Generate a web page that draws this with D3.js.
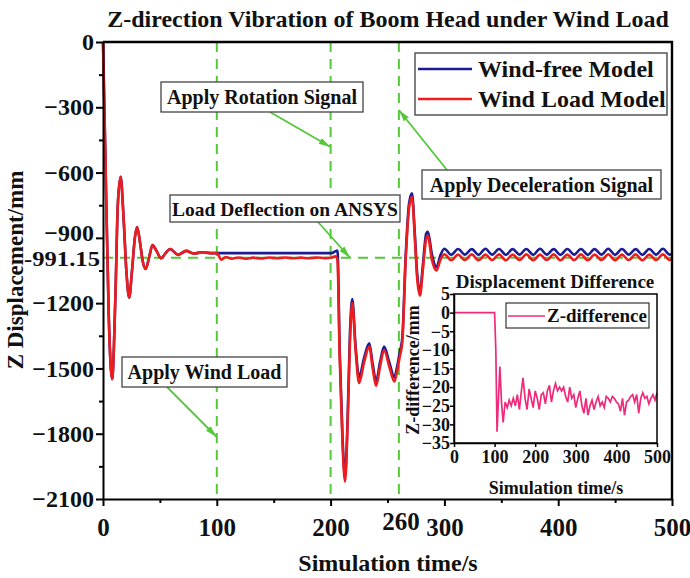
<!DOCTYPE html>
<html>
<head>
<meta charset="utf-8">
<script src="https://cdn.jsdelivr.net/npm/d3@7"></script>
<style>
  body { margin: 0; background: #fff; }
  text { font-family: "Liberation Serif", "Times New Roman", serif; font-weight: bold; fill: #111; }
</style>
</head>
<body>
<svg id="chart" width="690" height="578"></svg>
<script>
// ---- Boom head Z displacement (mm) over simulation time (s) ----
const timeS = [
  0, 2, 5, 8, 11, 13, 15.5, 18, 20.5, 23, 25.5, 28, 30, 32.5, 35, 37.5, 40.5, 43.5, 47, 51, 55, 59, 66, 73, 80, 87, 94, 100,
  104, 108, 113, 119, 125, 132, 139, 146, 153, 160, 167, 174, 181, 188, 195, 201, 204,
  206, 208, 210.5, 212.7, 215, 217, 219, 222, 225, 229.5, 234, 237, 240, 243.5, 247, 251.5, 256, 258.5, 261, 263, 266, 269, 271.5,
  274, 276, 278.5, 281, 284, 285.5, 289, 293, 296.5, 300,
  306, 312, 318, 324, 330, 336, 342, 348, 354, 360, 366, 372, 378, 384, 390, 396, 402, 408, 414, 420,
  426, 432, 438, 444, 450, 456, 462, 468, 474, 480, 486, 492, 498, 500
];
const windFree = [
  0, -500, -1250, -1550, -1150, -750, -620, -800, -1050, -1175, -1050, -900, -850, -920, -1010, -1043, -990, -933, -960, -994, -970, -951, -978, -960, -972, -966, -970, -970,
  -970, -970, -970, -970, -970, -970, -970, -970, -970, -970, -970, -970, -970, -970, -970, -970, -962,
  -958, -1420, -1820, -1995, -1720, -1340, -1181, -1400, -1540, -1450, -1385, -1480, -1558, -1470, -1400, -1470, -1540, -1490, -1420, -1360, -980, -740, -695,
  -880, -1060, -1150, -1030, -880, -872, -975, -1035, -980, -950,
  -978, -951, -977, -952, -978, -950, -977, -951, -978, -952, -977, -951, -978, -950, -977, -952, -978, -951, -977, -951,
  -978, -952, -977, -950, -978, -951, -977, -952, -978, -951, -977, -950, -977, -972
];
const windLoad = [
  0, -500, -1250, -1550, -1150, -750, -620, -800, -1050, -1175, -1050, -900, -850, -920, -1010, -1043, -990, -933, -960, -994, -970, -951, -978, -960, -972, -966, -970, -970,
  -1000, -988, -996, -990, -996, -991, -995, -990, -994, -990, -994, -991, -994, -990, -993, -990, -985,
  -1000, -1450, -1850, -2020, -1750, -1380, -1200, -1420, -1567, -1470, -1400, -1500, -1580, -1490, -1415, -1490, -1560, -1510, -1440, -1380, -1000, -760, -712,
  -900, -1080, -1165, -1050, -905, -890, -1000, -1050, -1000, -975,
  -1003, -977, -1002, -976, -1003, -977, -1002, -976, -1003, -977, -1002, -976, -1003, -977, -1002, -976, -1003, -977, -1002, -976,
  -1003, -977, -1002, -976, -1003, -977, -1002, -976, -1003, -977, -1002, -976, -1002, -997
];

// ---- Z difference between the two models (inset) ----
const diffTime = [
  0, 100, 103, 106, 110, 113, 117, 121, 126, 131, 136, 141, 146, 151, 156, 161, 166, 170, 175, 180, 185, 190, 195,
  200, 205, 210, 215, 220, 225, 230, 235, 240, 245, 250, 255, 260, 265, 270, 275, 280, 285, 290, 295,
  300, 305, 310, 315, 320, 325, 330, 335, 340, 345, 350, 355, 360, 365, 370, 375, 380, 385, 390, 395,
  400, 405, 410, 415, 420, 425, 430, 435, 440, 445, 450, 455, 460, 465, 470, 475, 480, 485, 490, 495, 500
];
const zDiff = [
  0, 0, -10, -32, -22, -14.5, -24, -29.5, -24, -25.5, -23.5, -25, -23, -25, -22, -26, -21, -17.5, -23, -26, -20.5, -23, -25.5,
  -21, -23, -26, -22, -21.5, -24.5, -21, -19.5, -24, -21, -19, -21, -20, -21, -20, -22.5, -24, -20, -23, -22,
  -25.5, -23, -21, -25, -27, -23, -27.5, -25, -23.5, -26, -24, -22.5, -25, -24, -25.5, -22.5, -23, -24, -22.5, -23,
  -24, -24.5, -26.5, -23, -27.5, -24, -23.5, -22.5, -22, -24, -22, -27, -23, -21.5, -23, -22.5, -24.5, -23, -22, -23.5, -21.5
];

// ---- axis ticks and markers ----
const xTicks = [0, 100, 200, 300, 400, 500];
const xMinor = [50, 150, 250, 350, 450];
const yTicks = [0, -300, -600, -900, -1200, -1500, -1800, -2100];
const yMinor = [-150, -450, -750, -1050, -1350, -1650, -1950];
const eventTimes = [100, 200, 260];
const ansysValue = -991.15;
const insetXTicks = [0, 100, 200, 300, 400, 500];
const insetYTicks = [5, 0, -5, -10, -15, -20, -25, -30, -35];

const svg = d3.select("#chart");
const green = "#55c83a";

const x = d3.scaleLinear().domain([0, 500]).range([103, 672]);
const y = d3.scaleLinear().domain([-2100, 0]).range([499, 42]);

// arrow head marker
svg.append("defs").append("marker")
  .attr("id", "arrowHead").attr("viewBox", "0 0 12 8")
  .attr("refX", 12).attr("refY", 4)
  .attr("markerWidth", 12).attr("markerHeight", 8)
  .attr("markerUnits", "userSpaceOnUse").attr("orient", "auto")
  .append("path").attr("d", "M0,0.8 L12,4 L0,7.2 Z").attr("fill", green);

// title
svg.append("text").attr("x", 388).attr("y", 27).attr("text-anchor", "middle")
  .style("font-size", "24px").text("Z-direction Vibration of Boom Head under Wind Load");

// reference lines: event times and ANSYS deflection
const refG = svg.append("g").attr("stroke", green).attr("stroke-width", 2).attr("stroke-dasharray", "10,7").attr("fill", "none");
refG.selectAll("line.v").data(eventTimes).join("line").attr("class", "v")
  .attr("x1", d => x(d)).attr("x2", d => x(d)).attr("y1", y(0)).attr("y2", y(-2100));
refG.append("line").attr("x1", x(0)).attr("x2", x(500)).attr("y1", y(ansysValue)).attr("y2", y(ansysValue));

// displacement curves
const line = d3.line().curve(d3.curveMonotoneX);
const freePts = timeS.map((t, i) => [x(t), y(windFree[i])]);
const loadPts = timeS.map((t, i) => [x(t), y(windLoad[i])]);
svg.append("path").attr("d", line(freePts)).attr("fill", "none").attr("stroke", "#1c1c94").attr("stroke-width", 2.6);
svg.append("path").attr("d", line(loadPts)).attr("fill", "none").attr("stroke", "#ee1c1c").attr("stroke-width", 2.6);

// axes
const xAxis = svg.append("g").attr("transform", `translate(0,${y(-2100)})`)
  .call(d3.axisBottom(x).tickValues(xTicks).tickSize(7).tickSizeOuter(0).tickPadding(12).tickFormat(d3.format("d")));
xAxis.selectAll("text").style("font-size", "25px");
svg.append("g").attr("transform", `translate(0,${y(-2100)})`)
  .call(d3.axisBottom(x).tickValues(xMinor).tickSize(4).tickSizeOuter(0).tickFormat(""))
  .select(".domain").remove();
const yAxis = svg.append("g").attr("transform", `translate(${x(0)},0)`)
  .call(d3.axisLeft(y).tickValues(yTicks).tickSize(7).tickSizeOuter(0).tickPadding(2).tickFormat(d3.format("d")));
yAxis.selectAll("text").style("font-size", "24px");
yAxis.selectAll(".tick").filter(d => d === -900).select("text").attr("dy", "0.1em");
svg.append("g").attr("transform", `translate(${x(0)},0)`)
  .call(d3.axisLeft(y).tickValues(yMinor).tickSize(4).tickSizeOuter(0).tickFormat(""))
  .select(".domain").remove();
svg.selectAll(".domain, .tick line").attr("stroke", "#000").attr("stroke-width", 2);
svg.selectAll(".tick text").attr("fill", "#111");

// extra labels on axes
svg.append("text").attr("x", 100).attr("y", y(ansysValue) + 8.5).attr("text-anchor", "end")
  .attr("textLength", 76).attr("lengthAdjust", "spacingAndGlyphs")
  .style("font-size", "21px").text("-991.15");
svg.append("text").attr("x", x(260) + 2).attr("y", y(-2100) + 31).attr("text-anchor", "middle")
  .style("font-size", "25px").text("260");

// frame
svg.append("path").attr("d", `M${x(0)},${y(0)}H${x(500)}V${y(-2100)}`)
  .attr("fill", "none").attr("stroke", "#000").attr("stroke-width", 2.4);

// axis titles
svg.append("text").attr("x", 388).attr("y", 571).attr("text-anchor", "middle")
  .style("font-size", "24px").text("Simulation time/s");
svg.append("text").attr("transform", "translate(23,270) rotate(-90)").attr("text-anchor", "middle")
  .style("font-size", "23px").text("Z Displacement/mm");

// legend
const leg = svg.append("g");
leg.append("rect").attr("x", 415).attr("y", 53).attr("width", 252).attr("height", 62)
  .attr("fill", "#fff").attr("stroke", "#555").attr("stroke-width", 1.5);
const legItems = [["Wind-free Model", "#1c1c94", 69], ["Wind Load Model", "#ee1c1c", 99]];
legItems.forEach(([label, color, ly]) => {
  leg.append("line").attr("x1", 418).attr("x2", 472).attr("y1", ly).attr("y2", ly)
    .attr("stroke", color).attr("stroke-width", 2.6);
  leg.append("text").attr("x", 478).attr("y", ly + 8).style("font-size", "24px").text(label);
});

// annotations with arrows
const notes = [
  { text: "Apply Rotation Signal", bx: 161, by: 82, bw: 202, bh: 30, from: [270, 112], to: [x(200), 147] },
  { text: "Load Deflection on ANSYS", bx: 170, by: 195, bw: 230, bh: 27, from: [318, 222], to: [350, y(ansysValue)] },
  { text: "Apply Deceleration Signal", bx: 422, by: 170, bw: 239, bh: 29, from: [447, 170], to: [x(260), 110] },
  { text: "Apply Wind Load", bx: 122, by: 357, bw: 165, bh: 30, from: [167, 387], to: [x(100), 437] }
];
notes.forEach(n => {
  svg.append("line").attr("x1", n.from[0]).attr("y1", n.from[1]).attr("x2", n.to[0]).attr("y2", n.to[1])
    .attr("stroke", green).attr("stroke-width", 1.8).attr("marker-end", "url(#arrowHead)");
  svg.append("rect").attr("x", n.bx).attr("y", n.by).attr("width", n.bw).attr("height", n.bh)
    .attr("fill", "#fff").attr("stroke", "#444").attr("stroke-width", 1.3);
  svg.append("text").attr("x", n.bx + n.bw / 2).attr("y", n.by + n.bh / 2 + 7).attr("text-anchor", "middle")
    .style("font-size", n.bh < 28 ? "19.5px" : "20px").text(n.text);
});

// ---- inset: displacement difference ----
const xi = d3.scaleLinear().domain([0, 500]).range([454, 657]);
const yi = d3.scaleLinear().domain([-35, 5]).range([443, 294]);
const inset = svg.append("g");
inset.append("text").attr("x", 555).attr("y", 288).attr("text-anchor", "middle")
  .style("font-size", "19px").text("Displacement Difference");
inset.append("path").attr("d", d3.line().curve(d3.curveLinear)(diffTime.map((t, i) => [xi(t), yi(zDiff[i])])))
  .attr("fill", "none").attr("stroke", "#ee2a7b").attr("stroke-width", 1.7);
const ixAxis = inset.append("g").attr("transform", `translate(0,${yi(-35)})`)
  .call(d3.axisBottom(xi).tickValues(insetXTicks).tickSize(4).tickSizeOuter(0).tickPadding(3).tickFormat(d3.format("d")));
const iyAxis = inset.append("g").attr("transform", `translate(${xi(0)},0)`)
  .call(d3.axisLeft(yi).tickValues(insetYTicks).tickSize(4).tickSizeOuter(0).tickPadding(0).tickFormat(d3.format("d")));
inset.selectAll(".tick text").style("font-size", "18px").attr("fill", "#111");
inset.selectAll(".domain, .tick line").attr("stroke", "#000").attr("stroke-width", 1.5);
inset.append("rect").attr("x", xi(0)).attr("y", yi(5)).attr("width", xi(500) - xi(0)).attr("height", yi(-35) - yi(5))
  .attr("fill", "none").attr("stroke", "#000").attr("stroke-width", 1.5);
inset.append("text").attr("x", 556).attr("y", 494).attr("text-anchor", "middle")
  .style("font-size", "18px").text("Simulation time/s");
inset.append("text").attr("transform", "translate(419,370) rotate(-90)").attr("text-anchor", "middle")
  .style("font-size", "18px").text("Z-difference/mm");
inset.append("rect").attr("x", 506).attr("y", 303).attr("width", 143).attr("height", 25)
  .attr("fill", "#fff").attr("stroke", "#333").attr("stroke-width", 1.2);
inset.append("line").attr("x1", 508).attr("x2", 545).attr("y1", 316).attr("y2", 316)
  .attr("stroke", "#ee2a7b").attr("stroke-width", 1.7);
inset.append("text").attr("x", 547).attr("y", 322).style("font-size", "19px").text("Z-difference");
</script>
</body>
</html>
